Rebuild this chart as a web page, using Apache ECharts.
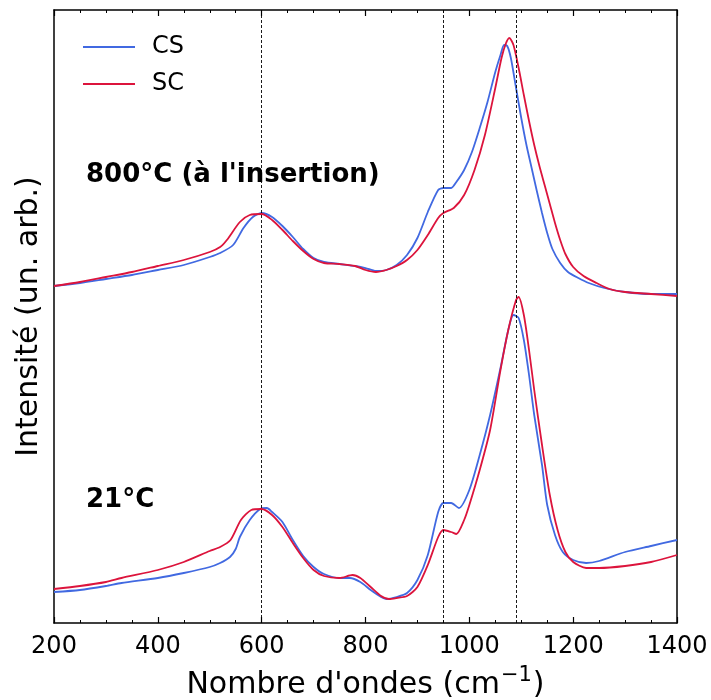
<!DOCTYPE html>
<html>
<head>
<meta charset="utf-8">
<script src="https://cdn.jsdelivr.net/npm/echarts@6/dist/echarts.min.js"></script>
<style>html,body{margin:0;padding:0;background:#fff}#c{width:711px;height:700px}</style>
</head>
<body>
<div id="c"></div>
<script>
// x in cm^-1, y in arbitrary units
const topCS = [[200,337],[250,340],[300,344],[350,348],[400,353],[450,358],[500,366],[520,370],[545,378],[565,395],[583,406],[600,410],[620,406],[640,397],[660,386],[680,374],[700,365],[720,361],[750,359],[780,357],[800,355],[820,352],[840,353],[860,358],[880,368],[900,385],[920,411],[940,433],[950,435],[965,435],[975,441],[990,453],[1005,471],[1020,495],[1035,521],[1050,551],[1060,568],[1067,578],[1073,577],[1080,565],[1090,535],[1100,505],[1110,478],[1120,455],[1130,432],[1140,410],[1150,390],[1160,374],[1175,360],[1190,351],[1210,345],[1230,340],[1260,335],[1300,331],[1350,329],[1400,329]];
const topSC = [[200,337],[250,341],[300,346],[350,351],[400,357],[450,363],[500,371],[520,376],[533,383],[558,401],[577,408],[600,409],[620,403],[640,393],[660,382],[680,372],[700,364],[720,360],[750,359],[780,357],[800,353],[820,351],[840,353],[860,357],[880,363],[900,373],[920,388],[940,405],[950,410],[970,415],[990,428],[1010,453],[1030,488],[1050,535],[1062,565],[1070,579],[1077,585],[1085,578],[1095,555],[1105,528],[1115,502],[1125,478],[1135,457],[1145,438],[1155,419],[1165,400],[1175,383],[1185,369],[1200,356],[1220,347],[1245,340],[1270,334],[1300,331],[1350,329],[1400,327]];
const botCS = [[200,31],[250,33],[300,37],[330,40],[400,45],[450,50],[500,56],[520,60],[539,66],[550,74],[558,86],[577,103],[597,114],[610,115],[620,111],[640,101],[660,83],[680,67],[700,56],[720,49],[750,45],[770,45],[790,41],[810,33],[830,26],[840,24],[860,26],[880,30],[900,43],[920,68],[940,111],[950,120],[965,120],[980,115],[1000,133],[1020,168],[1040,208],[1060,255],[1075,293],[1085,308],[1095,305],[1105,283],[1115,248],[1125,208],[1140,158],[1150,118],[1165,88],[1180,71],[1200,63],[1225,60],[1250,62],[1300,71],[1350,77],[1400,83]];
const botSC = [[200,34],[250,37],[300,41],[330,45],[400,53],[450,61],[500,72],[520,76],[540,83],[560,103],[580,113],[600,114],[620,108],[640,96],[660,80],[680,65],[700,53],[720,47],[750,45],[775,48],[790,45],[810,36],[830,27],[845,24],[860,25],[880,27],[900,36],[920,58],[940,86],[950,93],[965,91],[975,89],[990,103],[1000,118],[1020,153],[1040,193],[1060,253],[1075,293],[1090,323],[1095,326],[1105,308],[1115,273],[1125,233],[1140,178],[1155,128],[1170,93],[1185,71],[1200,61],[1225,55],[1250,55],[1300,57],[1350,61],[1400,68]];
const refLines = [600, 950, 1090];
const xTicks = [200, 400, 600, 800, 1000, 1200, 1400];
const seriesNames = ['CS', 'SC'];
const labels = ["800°C (à l'insertion)", '21°C'];

const FONT = 'DejaVu Sans';
const BLUE = '#4169E1', RED = '#DC143C';
const chart = echarts.init(document.getElementById('c'), null, {renderer: 'canvas'});
const axisCommon = {
  type: 'value', min: xTicks[0], max: xTicks[xTicks.length - 1], interval: 200,
  axisLine: {show: true, onZero: false, lineStyle: {color: '#000', width: 1.5}},
  axisTick: {show: true, inside: true, length: 6, lineStyle: {color: '#000', width: 1.2}},
  minorTick: {show: true, splitNumber: 4, length: 3, lineStyle: {color: '#000', width: 1}},
  splitLine: {show: false}
};
function line(name, data, color) {
  return {name, type: 'line', data, showSymbol: false, symbol: 'none', smooth: 0.25,
    lineStyle: {color, width: 1.8}, itemStyle: {color}, z: name === 'SC' ? 3 : 2, animation: false};
}
const s = [line(seriesNames[0], topCS, BLUE), line(seriesNames[1], topSC, RED), line(seriesNames[0], botCS, BLUE), line(seriesNames[1], botSC, RED)];
s.push({type: 'line', data: [], silent: true, animation: false,
  markLine: {symbol: 'none', silent: true, label: {show: false},
    lineStyle: {color: '#000', type: [3, 2], width: 0.9},
    data: refLines.map(v => ({xAxis: v}))}});
chart.setOption({
  animation: false,
  grid: {left: 54, right: 34, top: 10, bottom: 77, outerBoundsMode: 'none', containLabel: false},
  legend: {data: seriesNames.map(n => ({name: n, icon: 'rect'})), orient: 'vertical', left: 78, top: 30, itemWidth: 52, itemHeight: 2, itemGap: 13,
    textStyle: {fontFamily: FONT, fontSize: 24, color: '#000', padding: [0, 0, 0, 12]}},
  xAxis: [
    Object.assign({}, axisCommon, {position: 'bottom',
      name: "{n|Nombre d'ondes (cm}{s|−1}{n|)}", nameLocation: 'middle', nameGap: 41,
      nameTextStyle: {fontFamily: FONT, fontSize: 30, color: '#000',
        rich: {n: {fontFamily: FONT, fontSize: 30, color: '#000', lineHeight: 36, verticalAlign: 'bottom'},
               s: {fontFamily: FONT, fontSize: 21, color: '#000', lineHeight: 36, verticalAlign: 'bottom', padding: [0, 1, 14, 1]}}},
      axisLabel: {fontFamily: FONT, fontSize: 24, color: '#000', margin: 12, formatter: v => String(v)}}),
    Object.assign({}, axisCommon, {position: 'top', axisLabel: {show: false}})
  ],
  yAxis: [
    {type: 'value', min: 0, max: 613, position: 'left', name: 'Intensité (un. arb.)', nameLocation: 'middle', nameGap: 10,
      nameTextStyle: {fontFamily: FONT, fontSize: 30, color: '#000'},
      axisLine: {show: true, lineStyle: {color: '#000', width: 1.5}}, axisTick: {show: false}, axisLabel: {show: false}, splitLine: {show: false}},
    {type: 'value', min: 0, max: 613, position: 'right',
      axisLine: {show: true, lineStyle: {color: '#000', width: 1.5}}, axisTick: {show: false}, axisLabel: {show: false}, splitLine: {show: false}}
  ],
  graphic: [
    {type: 'text', left: 86, top: 162, style: {text: labels[0], font: 'bold 26px "DejaVu Sans"', fill: '#000'}},
    {type: 'text', left: 86, top: 487, style: {text: labels[1], font: 'bold 26px "DejaVu Sans"', fill: '#000'}}
  ],
  series: s
});
</script>
</body>
</html>
